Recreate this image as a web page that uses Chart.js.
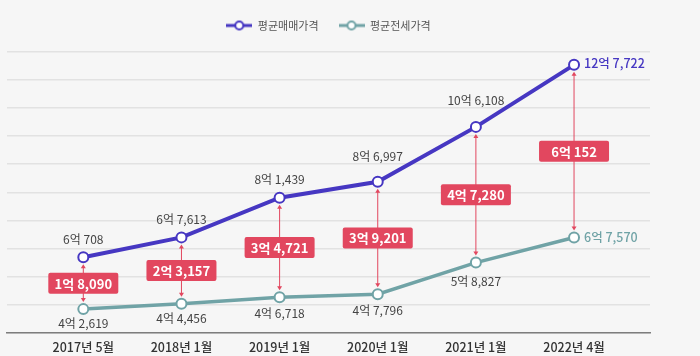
<!DOCTYPE html>
<html><head><meta charset="utf-8">
<script src="https://cdn.jsdelivr.net/npm/chart.js@4.4.1/dist/chart.umd.min.js"></script>
<style>html,body{margin:0;padding:0;background:#f6f6f6}#wrap{width:700px;height:356px;position:relative}canvas{display:block}</style>
</head><body><div id="wrap"><canvas id="c" width="700" height="356" style="width:700px;height:356px"></canvas></div>
<script>
const categories = ['2017년 5월','2018년 1월','2019년 1월','2020년 1월','2021년 1월','2022년 4월'];
const salePrice = [60708, 67613, 81439, 86997, 106108, 127722];   // 만원
const jeonsePrice = [42619, 44456, 46718, 47796, 58827, 67570];   // 만원
const gapValues = [18090, 23157, 34721, 39201, 47280, 60152];     // 만원
const seriesNames = ['평균매매가격','평균전세가격'];

const PURPLE = '#4637c2', TEAL = '#70a3a6', RED = '#e2475f';
const FONT = '"Noto Sans CJK KR", "Noto Sans", sans-serif';
// label placement (px) — styling only
const saleLabelGap = [18, 18, 18, 25, 26, 0];
const jeonseLabelGap = [14, 15, 16, 16, 19, 0];

function fmt(v){ const e = Math.floor(v/10000), r = v % 10000; return e + '억 ' + r.toLocaleString('en-US'); }

function makeMarker(color){
  const c = document.createElement('canvas'); c.width = 26; c.height = 12;
  const x = c.getContext('2d');
  x.strokeStyle = color; x.lineWidth = 3;
  x.beginPath(); x.moveTo(0,6); x.lineTo(26,6); x.stroke();
  x.fillStyle = '#fff'; x.lineWidth = 2;
  x.beginPath(); x.arc(13,6,4,0,Math.PI*2); x.fill(); x.stroke();
  return c;
}

const bgPlugin = { id:'bg', beforeDraw(ch){ const c=ch.ctx; c.save(); c.fillStyle='#f6f6f6'; c.fillRect(0,0,ch.width,ch.height); c.restore(); } };

const legendGap = {
  id: 'legendGap',
  beforeInit(ch){
    const lg = ch.legend; if (!lg) return;
    const orig = lg.fit;
    lg.fit = function(){ orig.call(this); this.height += 10.7; };
  }
};

const annoPlugin = {
  id:'anno',
  beforeDatasetsDraw(ch){
    const c = ch.ctx, xs = ch.scales.x, ys = ch.scales.y;
    c.save(); c.strokeStyle = RED; c.fillStyle = RED; c.lineWidth = 1;
    categories.forEach((_, i) => {
      const x = xs.getPixelForValue(i);
      const y1 = ys.getPixelForValue(salePrice[i]) + 7;
      const y2 = ys.getPixelForValue(jeonsePrice[i]) - 7;
      c.beginPath(); c.moveTo(x, y1+3); c.lineTo(x, y2-3); c.stroke();
      c.beginPath(); c.moveTo(x, y1); c.lineTo(x-2.5, y1+4); c.lineTo(x+2.5, y1+4); c.closePath(); c.fill();
      c.beginPath(); c.moveTo(x, y2); c.lineTo(x-2.5, y2-4); c.lineTo(x+2.5, y2-4); c.closePath(); c.fill();
    });
    c.restore();
  },
  afterDatasetsDraw(ch){
    const c = ch.ctx, xs = ch.scales.x, ys = ch.scales.y;
    c.save();
    const last = categories.length - 1;
    categories.forEach((_, i) => {
      const x = xs.getPixelForValue(i);
      const ys1 = ys.getPixelForValue(salePrice[i]);
      const ys2 = ys.getPixelForValue(jeonsePrice[i]);
      const my = (ys1 + ys2) / 2;
      c.fillStyle = RED;
      const bw = 70, bh = 21;
      c.beginPath();
      if (c.roundRect) c.roundRect(x - bw/2, my - bh/2, bw, bh, 2); else c.rect(x - bw/2, my - bh/2, bw, bh);
      c.fill();
      c.fillStyle = '#fff'; c.font = 'bold 13px ' + FONT; c.textAlign = 'center'; c.textBaseline = 'middle';
      c.fillText(fmt(gapValues[i]), x, my + 0.5);
      c.font = '12px ' + FONT;
      if (i === last) {
        c.textAlign = 'left';
        c.fillStyle = PURPLE; c.font = '500 12.5px ' + FONT;
        c.fillText(fmt(salePrice[i]), x + 10, ys1 - 2);
        c.fillStyle = TEAL;
        c.fillText(fmt(jeonsePrice[i]), x + 10, ys2);
      } else {
        c.textAlign = 'center'; c.fillStyle = '#444';
        c.fillText(fmt(salePrice[i]), x, ys1 - saleLabelGap[i]);
        c.fillText(fmt(jeonsePrice[i]), x, ys2 + jeonseLabelGap[i]);
      }
    });
    c.restore();
  }
};

const yMin = 34300, yMax = 132300;

new Chart(document.getElementById('c'), {
  type: 'line',
  data: {
    datasets: [
      { label: seriesNames[0], data: salePrice.map((v,i)=>({x:i,y:v})), borderColor: PURPLE, borderWidth: 4,
        pointRadius: 5, pointBorderWidth: 2, pointBackgroundColor: '#fff', pointBorderColor: PURPLE, tension: 0 },
      { label: seriesNames[1], data: jeonsePrice.map((v,i)=>({x:i,y:v})), borderColor: TEAL, borderWidth: 3.5,
        pointRadius: 5, pointBorderWidth: 2, pointBackgroundColor: '#fff', pointBorderColor: TEAL, tension: 0 }
    ]
  },
  options: {
    responsive: false, maintainAspectRatio: false, animation: false, devicePixelRatio: 1,
    layout: { padding: { left: 7, right: 50, top: 0, bottom: -6 } },
    plugins: {
      tooltip: { enabled: false },
      legend: {
        display: true, position: 'top',
        labels: {
          usePointStyle: true, pointStyleWidth: 26, padding: 20,
          font: { family: FONT, size: 11 }, color: '#555',
          generateLabels(ch){
            return ch.data.datasets.map((d, i) => ({
              text: d.label, pointStyle: makeMarker(d.borderColor), fillStyle: d.borderColor,
              strokeStyle: d.borderColor, lineWidth: 0, datasetIndex: i, fontColor: '#555', hidden: false
            }));
          }
        }
      }
    },
    scales: {
      x: {
        type: 'linear', min: -0.7775, max: 5.774,
        afterBuildTicks(s){ s.ticks = categories.map((_, i) => ({ value: i })); },
        grid: { display: false, drawTicks: false },
        border: { display: true, color: '#7d7d7d', width: 1.5 },
        ticks: { callback: (v) => categories[v], autoSkip: false, maxRotation: 0, padding: 7,
                 font: { family: FONT, size: 12.5, weight: '500' }, color: '#333' }
      },
      y: {
        type: 'linear', min: yMin, max: yMax,
        afterBuildTicks(s){ const t=[]; for (let k=0;k<=10;k++) t.push({ value: yMin + (yMax-yMin)*k/10 }); s.ticks = t; },
        ticks: { display: false },
        grid: { color: '#e2e2e2', lineWidth: 1.5, drawTicks: false },
        border: { display: false }
      }
    }
  },
  plugins: [bgPlugin, legendGap, annoPlugin]
});
</script>
</body></html>
